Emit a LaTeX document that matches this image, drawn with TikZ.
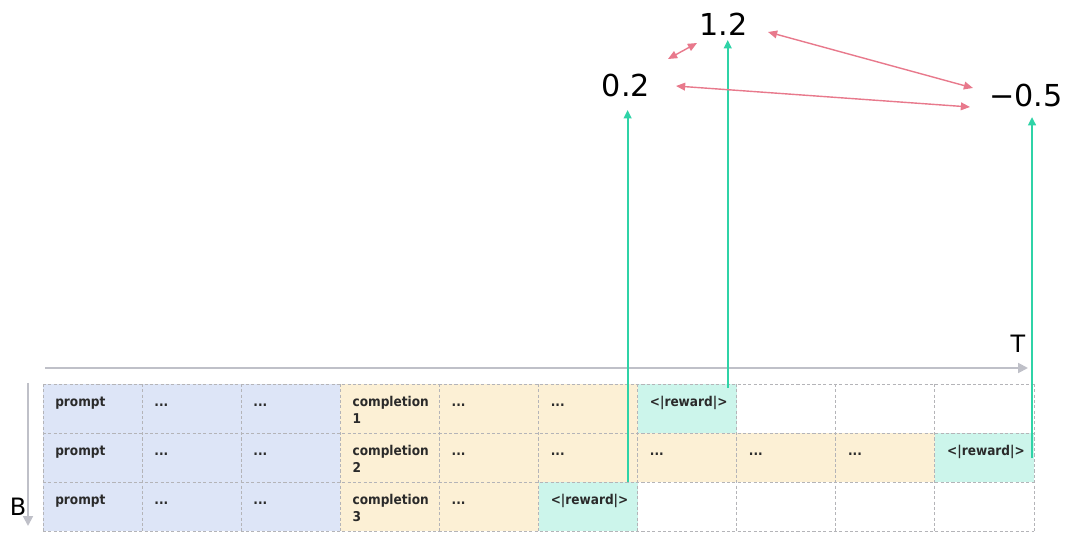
\documentclass[tikz,border=0pt]{standalone}
\usepackage{fontspec}
\setmainfont{DejaVu Sans}
\newfontfamily\cellfont{DejaVu Sans Condensed}
\usepackage{tikz}
\usepackage{xcolor}
\usetikzlibrary{arrows.meta,calc,positioning}
\definecolor{promptfill}{HTML}{DDE5F7}
\definecolor{complfill}{HTML}{FCF0D5}
\definecolor{rewardfill}{HTML}{CCF5EB}
\definecolor{gridline}{HTML}{B4B4B8}
\definecolor{axisgray}{HTML}{BFC0C8}
\definecolor{rewardgreen}{HTML}{2FD3A7}
\definecolor{pairpink}{HTML}{E8798C}
\definecolor{textdark}{HTML}{2A2A2A}
\newcommand{\tokdots}{...}

\begin{document}
\begin{tikzpicture}[
          x=0.025cm, y=-0.025cm,
          every node/.style={text=textdark},
          cell/.style={anchor=north west, minimum width=2.4775cm, minimum height=1.225cm, inner sep=0pt, outer sep=0pt},
          pcell/.style={fill=promptfill},
          ccell/.style={fill=complfill},
          rcell/.style={fill=rewardfill},
          wcell/.style={fill=white},
          gridrule/.style={draw=gridline, dash pattern=on 2.2pt off 1.6pt, line width=0.6pt},
          celltext/.style={font=\cellfont\bfseries\fontsize{9.6}{12.4}\selectfont, anchor=north west, align=left,
                           inner sep=0pt, xshift=0.3cm, yshift=-7.6pt},
          score/.style={font=\fontsize{21.5}{24}\selectfont, text=black, inner sep=2pt},
          axislabel/.style={font=\fontsize{17}{20}\selectfont, text=black},
          axis/.style={axisgray, line width=1.4pt, -{Triangle[length=7pt,width=7pt]}},
          toscore/.style={rewardgreen, line width=1.5pt, -{Triangle[length=6pt,width=5.5pt]}},
          compare/.style={pairpink, line width=1pt, {Triangle[length=6.5pt,width=5.5pt]}-{Triangle[length=6.5pt,width=5.5pt]}}
      ]
        \useasboundingbox (0,0) rectangle (1080,544);

        % token grid: batch rows, time columns
        \foreach \c/\s/\t in {1/pcell/prompt, 2/pcell/\tokdots, 3/pcell/\tokdots, 4/ccell/{completion\\1}, 5/ccell/\tokdots,
                              6/ccell/\tokdots, 7/rcell/{<|reward|>}, 8/wcell/{}, 9/wcell/{}, 10/wcell/{}}
          {\node[cell, \s] (r1c\c) at ({43+(\c-1)*99.1},384) {};
           \node[celltext] at (r1c\c.north west) {\rule{0pt}{8pt}\t};}
        \foreach \c/\s/\t in {1/pcell/prompt, 2/pcell/\tokdots, 3/pcell/\tokdots, 4/ccell/{completion\\2}, 5/ccell/\tokdots,
                              6/ccell/\tokdots, 7/ccell/\tokdots, 8/ccell/\tokdots, 9/ccell/\tokdots, 10/rcell/{<|reward|>}}
          {\node[cell, \s] (r2c\c) at ({43+(\c-1)*99.1},433) {};
           \node[celltext] at (r2c\c.north west) {\rule{0pt}{8pt}\t};}
        \foreach \c/\s/\t in {1/pcell/prompt, 2/pcell/\tokdots, 3/pcell/\tokdots, 4/ccell/{completion\\3}, 5/ccell/\tokdots,
                              6/rcell/{<|reward|>}, 7/wcell/{}, 8/wcell/{}, 9/wcell/{}, 10/wcell/{}}
          {\node[cell, \s] (r3c\c) at ({43+(\c-1)*99.1},482) {};
           \node[celltext] at (r3c\c.north west) {\rule{0pt}{8pt}\t};}

        % dashed cell borders
        \foreach \c in {1,...,10}
          \draw[gridrule] (r1c\c.north west) -- (r3c\c.south west);
        \draw[gridrule] (r1c10.north east) -- (r3c10.south east);
        \foreach \r in {1,2,3}
          \draw[gridrule] (r\r c1.north west) -- (r\r c10.north east);
        \draw[gridrule] (r3c1.south west) -- (r3c10.south east);

        % axes
        \coordinate (t0) at (45,368);
        \coordinate (t1) at (1028,368);
        \node[axislabel] (tlab) at (1018,344) {T};
        \draw[axis] (t0) -- (t1);
        \coordinate (b0) at (28,383);
        \coordinate (b1) at (28,526);
        \node[axislabel] (blab) at (18,507) {B};
        \draw[axis] (b0) -- (b1);

        % scores
        \node[score] (s1) at (626,85.5) {0.2};
        \node[score] (s2) at (723.5,24) {1.2};
        \node[score] (s3) at (1026,95) {−0.5};

        % reward token -> score
        \coordinate (g3) at ($(r3c6.north east)+(-10,0)$);
        \coordinate (g1) at ($(r1c7.north east)+(-9,4)$);
        \coordinate (g2) at ($(r2c10.east)+(-2,0)$);
        \draw[toscore] (g3) -- ($(g3 |- s1)+(0,24.5)$);
        \draw[toscore] (g1) -- ($(g1 |- s2)+(0,16)$);
        \draw[toscore] (g2) -- ($(g2 |- s3)+(0,22)$);

        % pairwise comparisons
        \draw[compare] ($(s1)+(42,-26.5)$) -- ($(s2)+(-26.5,19)$);
        \draw[compare] ($(s2)+(44.5,8)$) -- ($(s3)+(-53,-7)$);
        \draw[compare] ($(s1)+(50,0.5)$) -- ($(s3)+(-56,12)$);
      \end{tikzpicture}
\end{document}
